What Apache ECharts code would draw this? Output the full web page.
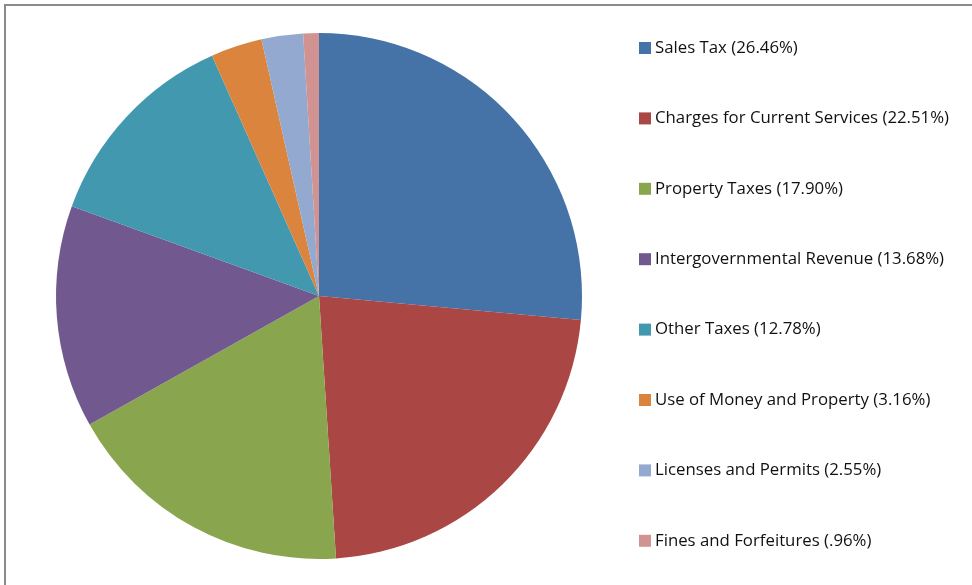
<!DOCTYPE html>
<html>
<head>
<meta charset="utf-8">
<script src="https://cdn.jsdelivr.net/npm/echarts@6/dist/echarts.min.js"></script>
<style>
  html, body { margin: 0; padding: 0; background: #fff; }
  #frame { position: absolute; left: 4px; top: 4px; width: 980px; height: 600px; border: 2px solid #8a8a8a; box-sizing: border-box; }
  #chart { position: absolute; left: 0; top: 0; width: 972px; height: 585px; }
</style>
</head>
<body>
<div id="frame"></div>
<div id="chart"></div>
<script>
// Revenue sources, share of total (%)
const categories = [
  'Sales Tax',
  'Charges for Current Services',
  'Property Taxes',
  'Intergovernmental Revenue',
  'Other Taxes',
  'Use of Money and Property',
  'Licenses and Permits',
  'Fines and Forfeitures'
];
const shares = [26.46, 22.51, 17.90, 13.68, 12.78, 3.16, 2.55, 0.96];
const palette = ['#4572A7', '#AA4643', '#89A54E', '#71588F', '#4198AF', '#DB843D', '#93A9CF', '#D19392'];

// Percent text like "26.46%" or ".96%"
function pctText(v) {
  let s = v.toFixed(2);
  if (s.startsWith('0')) s = s.slice(1);
  return s + '%';
}

const pieData = categories.map((name, i) => ({ name: name, value: shares[i] }));

const chart = echarts.init(document.getElementById('chart'), null, { renderer: 'canvas' });
chart.setOption({
  backgroundColor: 'transparent',
  animation: false,
  color: palette,
  legend: {
    orient: 'vertical',
    left: 639,
    top: 39.5,
    padding: 0,
    itemWidth: 12,
    itemHeight: 12,
    itemGap: 53.4,
    icon: 'rect',
    selectedMode: false,
    formatter: function (name) {
      const i = categories.indexOf(name);
      return name + ' (' + pctText(shares[i]) + ')';
    },
    textStyle: {
      fontFamily: 'Open Sans',
      fontSize: 16.8,
      color: '#111',
      padding: [0, 0, 0, -1]
    },
    data: categories
  },
  series: [{
    type: 'pie',
    center: [319, 296],
    radius: 263,
    startAngle: 90,
    clockwise: true,
    label: { show: false },
    labelLine: { show: false },
    emphasis: { disabled: true },
    itemStyle: { borderWidth: 0 },
    data: pieData
  }]
});
</script>
</body>
</html>
